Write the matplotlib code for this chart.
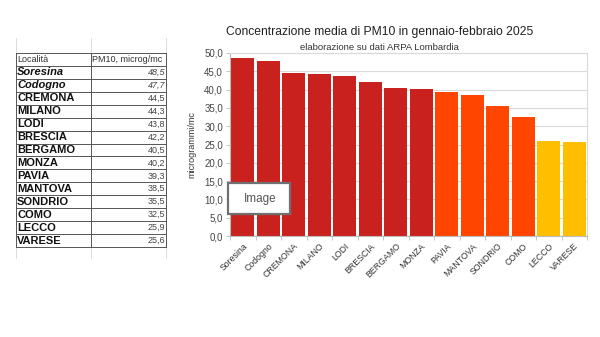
import matplotlib
matplotlib.use("Agg")
import matplotlib.pyplot as plt
from matplotlib.ticker import FuncFormatter, FixedLocator
from matplotlib.patches import Rectangle

plt.rcParams['font.family'] = ['Liberation Sans', 'DejaVu Sans']

cities = ["Soresina", "Codogno", "CREMONA", "MILANO", "LODI", "BRESCIA", "BERGAMO",
          "MONZA", "PAVIA", "MANTOVA", "SONDRIO", "COMO", "LECCO", "VARESE"]
values = [48.5, 47.7, 44.5, 44.3, 43.8, 42.2, 40.5, 40.2, 39.3, 38.5, 35.5, 32.5, 25.9, 25.6]
groups = ["high"] * 8 + ["mid"] * 4 + ["low"] * 2
group_colors = {"high": "#C9211E", "mid": "#FF4500", "low": "#FFBF00"}
yticks = [0, 5, 10, 15, 20, 25, 30, 35, 40, 45, 50]

W, H = 600, 337
fig = plt.figure(figsize=(6, 3.37), dpi=100)

def fx(px):
    return px / W

def fy(py):
    return 1 - py / H

# --- spreadsheet table on the left ---
grid_col = "#d8d8d8"
for x in [16, 91, 166]:
    fig.add_artist(plt.Line2D([fx(x), fx(x)], [fy(38), fy(258)], color=grid_col, lw=0.6))

top, bottom = 53, 247
nrows = len(cities) + 1
rh = (bottom - top) / nrows
line_col = "#555555"
for i in range(nrows + 1):
    y = top + i * rh
    fig.add_artist(plt.Line2D([fx(16), fx(166)], [fy(y), fy(y)], color=line_col, lw=0.7))
for x in [16, 91, 166]:
    fig.add_artist(plt.Line2D([fx(x), fx(x)], [fy(top), fy(bottom)], color=line_col, lw=0.7))

fig.text(fx(17), fy(top + rh / 2), "Località", fontsize=6.5, va="center", ha="left", color="#333333")
fig.text(fx(92), fy(top + rh / 2), "PM10, microg/mc", fontsize=6.5, va="center", ha="left", color="#333333")
for i, (c, v) in enumerate(zip(cities, values)):
    yc = fy(top + (i + 1.5) * rh)
    style = "italic" if c[1:].islower() else "normal"
    fig.text(fx(17), yc, c, fontsize=8, fontweight="bold", fontstyle=style,
             va="center", ha="left", color="#111111")
    fig.text(fx(165), yc, f"{v:.1f}".replace(".", ","), fontsize=6.5, fontstyle="italic" if style == "italic" else "normal",
             va="center", ha="right", color="#444444")

# --- chart ---
ax = fig.add_axes([fx(230), fy(236), fx(587) - fx(230), fy(53) - fy(236)])
xs = list(range(len(cities)))
ax.bar(xs, values, width=0.92, color=[group_colors[g] for g in groups], zorder=2)
ax.set_xlim(-0.5, len(cities) - 0.5)
ax.set_ylim(0, 50)
ax.set_yticks(yticks)
ax.yaxis.set_major_formatter(FuncFormatter(lambda v, p: f"{v:.1f}".replace(".", ",")))
ax.grid(axis="y", color="#d9d9d9", lw=0.8, zorder=0)
for s in ax.spines.values():
    s.set_color("#d9d9d9")
    s.set_linewidth(0.8)
ax.spines["bottom"].set_color("#bbbbbb")
ax.spines["left"].set_color("#bbbbbb")
ax.tick_params(axis="y", labelsize=7, colors="#444444", length=3, width=0.6, pad=2)
ax.tick_params(axis="y", color="#bbbbbb")
ax.set_xticks(xs)
ax.set_xticklabels(cities, rotation=45, ha="right", rotation_mode="anchor", fontsize=6.3, color="#333333")
ax.tick_params(axis="x", length=0, pad=4)
ax.xaxis.set_minor_locator(FixedLocator([i - 0.5 for i in range(len(cities) + 1)]))
ax.tick_params(axis="x", which="minor", length=3, width=0.6, color="#bbbbbb")
ax.set_ylabel("microgrammi/mc", fontsize=6.5, color="#333333", labelpad=6)

fig.text(fx(380), fy(32), "Concentrazione media di PM10 in gennaio-febbraio 2025",
         fontsize=8.7, ha="center", va="center", color="#222222")
fig.text(fx(379), fy(47), "elaborazione su dati ARPA Lombardia",
         fontsize=6.8, ha="center", va="center", color="#333333")

# --- screenshot overlay placeholder ---
fig.add_artist(Rectangle((fx(228), fy(214)), fx(290) - fx(228), fy(183) - fy(214),
                         facecolor="white", edgecolor="#707070", lw=1.6, zorder=10))
fig.text(fx(260), fy(199), "Image", fontsize=8.5, ha="center", va="center", color="#555555", zorder=11)

fig.savefig("out.png", dpi=100, facecolor="white")
